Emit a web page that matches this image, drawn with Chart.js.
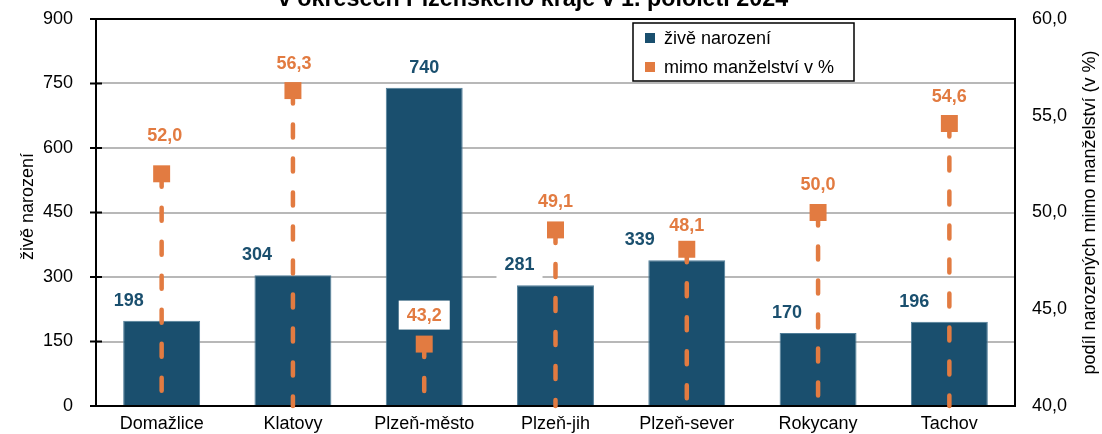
<!DOCTYPE html>
<html>
<head>
<meta charset="utf-8">
<script src="https://cdn.jsdelivr.net/npm/chart.js@4.4.1/dist/chart.umd.min.js"></script>
<style>
  html, body { margin: 0; padding: 0; background: #fff; }
  #wrap { width: 1102px; height: 434px; position: relative; }
</style>
</head>
<body>
<div id="wrap"><canvas id="chart" width="1102" height="434"></canvas></div>
<script>
// data
const districts = ['Domažlice', 'Klatovy', 'Plzeň-město', 'Plzeň-jih', 'Plzeň-sever', 'Rokycany', 'Tachov'];
const liveBirths = [198, 304, 740, 281, 339, 170, 196];
const outsideMarriage = [52.0, 56.3, 43.2, 49.1, 48.1, 50.0, 54.6];
const leftTicks = [0, 150, 300, 450, 600, 750, 900];
const rightTicks = [40, 45, 50, 55, 60];

const titleText = 'v okresech Plzeňského kraje v 1. pololetí 2024';
const leftTitle = 'živě narození';
const rightTitle = 'podíl narozených mimo manželství (v %)';

// label nudges (px), as placed in the original
const barLabelDx = [-33, -36, 0, -36, -47, -31, -35];
const pctLabelDx = [3, 1, 0, 0, 0, 0, 0];
const pctLabelDy = [-39, -28, -29, -29, -24, -28, -27];
const boxedBarLabels = [3];
const boxedPctLabels = [2];

const BLUE = '#1a4f6e';
const ORANGE = '#e27b41';
const FONT = '"Liberation Sans", Arial, sans-serif';

const fmt = v => v.toFixed(1).replace('.', ',');

function labelAt(ctx, text, x, y, color, boxed) {
  ctx.font = 'bold 18px ' + FONT;
  ctx.textAlign = 'center';
  ctx.textBaseline = 'middle';
  if (boxed) {
    const w = ctx.measureText(text).width + 16;
    ctx.fillStyle = '#fff';
    ctx.fillRect(x - w / 2, y - 14.5, w, 29);
  }
  ctx.fillStyle = color;
  ctx.fillText(text, x, y + 1);
}

function noPad(s) {
  s.paddingTop = 0;
  s.paddingBottom = 0;
  s.paddingLeft = 0;
  s.paddingRight = 0;
}

const decor = {
  id: 'decor',
  afterDatasetDraw(chart, args) {
    if (args.index !== 0) return;
    // dashed drop lines from the markers down to the axis
    const ctx = chart.ctx;
    const pts = chart.getDatasetMeta(1).data;
    const bottom = chart.scales.y.getPixelForValue(0);
    ctx.save();
    ctx.strokeStyle = ORANGE;
    ctx.lineWidth = 4.5;
    ctx.lineCap = 'round';
    ctx.setLineDash([13, 21]);
    pts.forEach(p => {
      ctx.beginPath();
      ctx.moveTo(p.x, p.y);
      ctx.lineTo(p.x, bottom);
      ctx.stroke();
    });
    ctx.restore();
  },
  afterDraw(chart) {
    const ctx = chart.ctx;
    const area = chart.chartArea;
    const ys = chart.scales.y;
    ctx.save();

    // cross tick marks on the left axis
    ctx.strokeStyle = '#000';
    ctx.lineWidth = 2;
    leftTicks.forEach(v => {
      const y = ys.getPixelForValue(v);
      ctx.beginPath();
      ctx.moveTo(area.left - 6, y);
      ctx.lineTo(area.left + 6, y);
      ctx.stroke();
    });

    // value labels
    chart.getDatasetMeta(0).data.forEach((bar, i) => {
      labelAt(ctx, String(liveBirths[i]), bar.x + barLabelDx[i], bar.y - 21, BLUE, boxedBarLabels.includes(i));
    });
    chart.getDatasetMeta(1).data.forEach((pt, i) => {
      labelAt(ctx, fmt(outsideMarriage[i]), pt.x + pctLabelDx[i], pt.y + pctLabelDy[i], ORANGE, boxedPctLabels.includes(i));
    });

    // title (cut off at top, as in the original)
    ctx.fillStyle = '#000';
    ctx.font = 'bold 23.3px ' + FONT;
    ctx.textAlign = 'center';
    ctx.textBaseline = 'alphabetic';
    ctx.fillText(titleText, 533, 6);

    // axis titles
    ctx.font = '18px ' + FONT;
    ctx.textBaseline = 'middle';
    const midY = (area.top + area.bottom) / 2;
    ctx.save();
    ctx.translate(28, midY - 6);
    ctx.rotate(-Math.PI / 2);
    ctx.fillText(leftTitle, 0, 0);
    ctx.restore();
    ctx.save();
    ctx.translate(1090, midY);
    ctx.rotate(-Math.PI / 2);
    ctx.fillText(rightTitle, 0, 0);
    ctx.restore();

    // legend box
    const lx = 633, ly = 23, lw = 221, lh = 58;
    ctx.fillStyle = '#fff';
    ctx.fillRect(lx, ly, lw, lh);
    ctx.strokeStyle = '#000';
    ctx.lineWidth = 1.5;
    ctx.strokeRect(lx, ly, lw, lh);
    chart.data.datasets.forEach((ds, i) => {
      const cy = ly + 15 + i * 29;
      ctx.fillStyle = ds.legendColor;
      ctx.fillRect(lx + 12, cy - 5, 10, 10);
      ctx.fillStyle = '#000';
      ctx.textAlign = 'left';
      ctx.font = '18px ' + FONT;
      ctx.fillText(ds.label, lx + 31, cy + 1);
    });
    ctx.restore();
  }
};

new Chart(document.getElementById('chart'), {
  type: 'bar',
  data: {
    labels: districts,
    datasets: [
      {
        type: 'bar',
        label: 'živě narození',
        data: liveBirths,
        yAxisID: 'y',
        backgroundColor: BLUE,
        borderColor: '#4f7d98',
        borderWidth: 1,
        legendColor: BLUE,
        barPercentage: 0.586,
        categoryPercentage: 1,
        order: 2
      },
      {
        type: 'line',
        label: 'mimo manželství v %',
        data: outsideMarriage,
        yAxisID: 'y1',
        showLine: false,
        pointStyle: 'rect',
        pointRadius: 12,
        pointHoverRadius: 12,
        pointBorderWidth: 0,
        pointBackgroundColor: ORANGE,
        legendColor: ORANGE,
        order: 1
      }
    ]
  },
  plugins: [decor],
  options: {
    responsive: false,
    animation: false,
    layout: { autoPadding: false, padding: { top: 19, left: 0, right: 0, bottom: 0 } },
    plugins: {
      legend: { display: false },
      tooltip: { enabled: false },
      title: { display: false }
    },
    scales: {
      x: {
        grid: { display: false, drawTicks: false },
        border: { display: true, color: '#000', width: 2 },
        ticks: { color: '#000', font: { family: FONT, size: 18 }, padding: 7, maxRotation: 0 },
        afterFit: s => { s.height = 28; noPad(s); }
      },
      y: {
        position: 'left',
        min: 0,
        max: 900,
        afterBuildTicks: s => { s.ticks = leftTicks.map(v => ({ value: v })); },
        grid: {
          drawTicks: false,
          lineWidth: 2,
          color: c => (c.tick && c.tick.value === 900 ? '#000' : '#b8b8b8')
        },
        border: { display: true, color: '#000', width: 2 },
        ticks: { color: '#000', font: { family: FONT, size: 18 }, padding: 23 },
        afterFit: s => { s.width = 96; noPad(s); }
      },
      y1: {
        position: 'right',
        min: 40,
        max: 60,
        afterBuildTicks: s => { s.ticks = rightTicks.map(v => ({ value: v })); },
        grid: { display: false, drawTicks: false },
        border: { display: true, color: '#000', width: 2 },
        ticks: { color: '#000', font: { family: FONT, size: 18 }, padding: 17, callback: v => fmt(v) },
        afterFit: s => { s.width = 87; noPad(s); }
      }
    }
  }
});
</script>
</body>
</html>
